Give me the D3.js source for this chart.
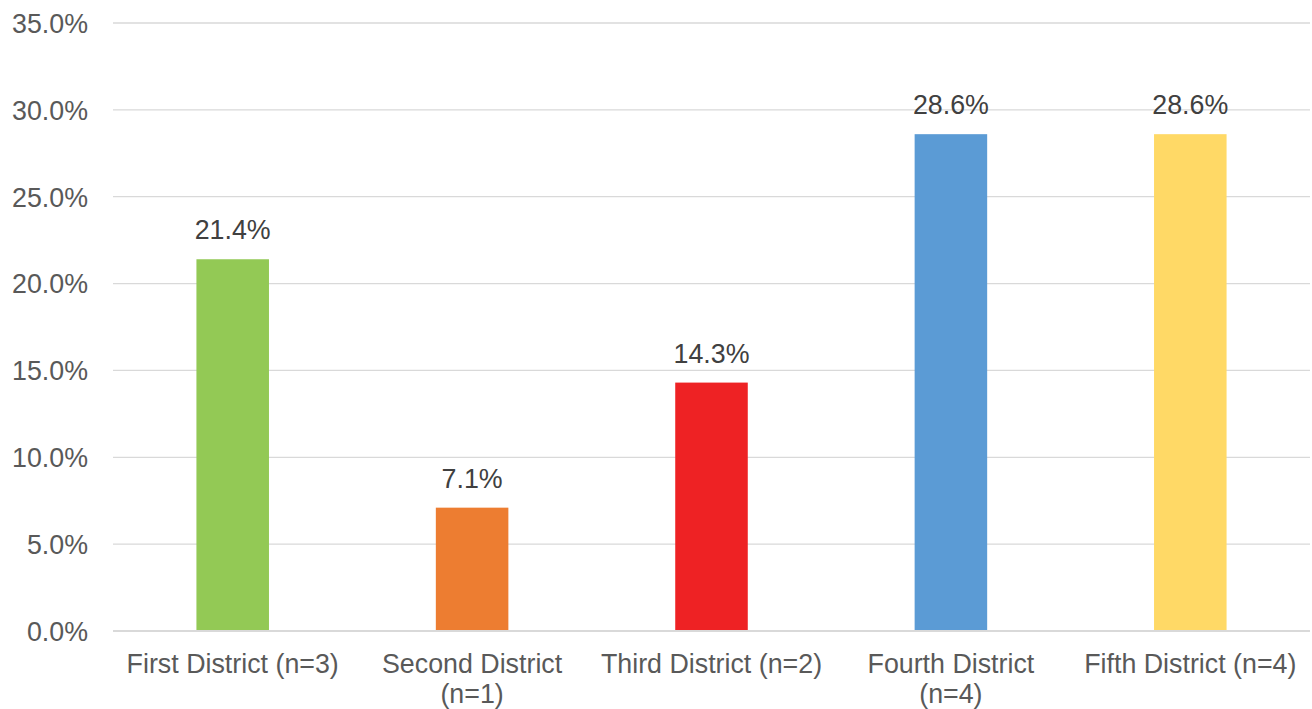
<!DOCTYPE html>
<html>
<head>
<meta charset="utf-8">
<script src="https://cdn.jsdelivr.net/npm/d3@7"></script>
<style>
  html, body { margin: 0; padding: 0; background: #ffffff; }
  svg { display: block; font-family: "Liberation Sans", Arial, sans-serif; }
</style>
</head>
<body>
<svg id="chart" width="1312" height="709"></svg>
<script>
// District shares (percent)
const categories = ["First District (n=3)", "Second District (n=1)", "Third District (n=2)", "Fourth District (n=4)", "Fifth District (n=4)"];
const values = [21.4, 7.1, 14.3, 28.6, 28.6];
const colors = ["#93C955", "#ED7D31", "#EE2224", "#5B9BD5", "#FFD966"];
const yTicks = [0, 5, 10, 15, 20, 25, 30, 35];

const W = 1312, H = 709;
const margin = { left: 113, right: 2, top: 23, bottom: 78 };
const svg = d3.select("#chart");

const x = d3.scaleBand()
  .domain(categories)
  .range([margin.left, W - margin.right])
  .padding(0);

const y = d3.scaleLinear()
  .domain([0, 35])
  .range([H - margin.bottom, margin.top]);

const barWidth = x.bandwidth() * 0.303;
const fmt = v => v.toFixed(1) + "%";

// Horizontal gridlines
svg.append("g")
  .selectAll("line")
  .data(yTicks.filter(t => t > 0))
  .join("line")
  .attr("x1", margin.left)
  .attr("x2", W - margin.right)
  .attr("y1", d => y(d))
  .attr("y2", d => y(d))
  .attr("stroke", "#D9D9D9")
  .attr("stroke-width", 1.3);

// Y axis labels
const yAxis = d3.axisLeft(y).tickValues(yTicks).tickFormat(fmt).tickSize(0).tickPadding(0);
const yg = svg.append("g")
  .attr("transform", `translate(88,0)`)
  .call(yAxis);
yg.select(".domain").remove();
yg.selectAll("text")
  .attr("font-size", 26.8)
  .attr("fill", "#595959")
  .attr("font-family", "Liberation Sans, Arial, sans-serif")
  .attr("dy", "0.35em");

// Bars
svg.append("g")
  .selectAll("rect")
  .data(values)
  .join("rect")
  .attr("x", (d, i) => x(categories[i]) + x.bandwidth() / 2 - barWidth / 2)
  .attr("width", barWidth)
  .attr("y", d => y(d))
  .attr("height", d => y(0) - y(d))
  .attr("fill", (d, i) => colors[i]);

// Value labels
svg.append("g")
  .selectAll("text")
  .data(values)
  .join("text")
  .attr("x", (d, i) => x(categories[i]) + x.bandwidth() / 2)
  .attr("y", d => y(d) - 20)
  .attr("text-anchor", "middle")
  .attr("font-size", 26.8)
  .attr("fill", "#404040")
  .text(d => fmt(d));

// Baseline
svg.append("line")
  .attr("x1", margin.left)
  .attr("x2", W - margin.right)
  .attr("y1", y(0))
  .attr("y2", y(0))
  .attr("stroke", "#D9D9D9")
  .attr("stroke-width", 2);

// Category labels, wrapped when wider than the band
const xg = svg.append("g");
categories.forEach((c, i) => {
  const cx = x(c) + x.bandwidth() / 2;
  const t = xg.append("text")
    .attr("x", cx)
    .attr("y", 673)
    .attr("text-anchor", "middle")
    .attr("font-size", 26.8)
    .attr("fill", "#595959")
    .text(c);
  if (t.node().getComputedTextLength() > 228) {
    const words = c.split(" ");
    const last = words.pop();
    t.text(words.join(" "));
    xg.append("text")
      .attr("x", cx)
      .attr("y", 703)
      .attr("text-anchor", "middle")
      .attr("font-size", 26.8)
      .attr("fill", "#595959")
      .text(last);
  }
});
</script>
</body>
</html>
